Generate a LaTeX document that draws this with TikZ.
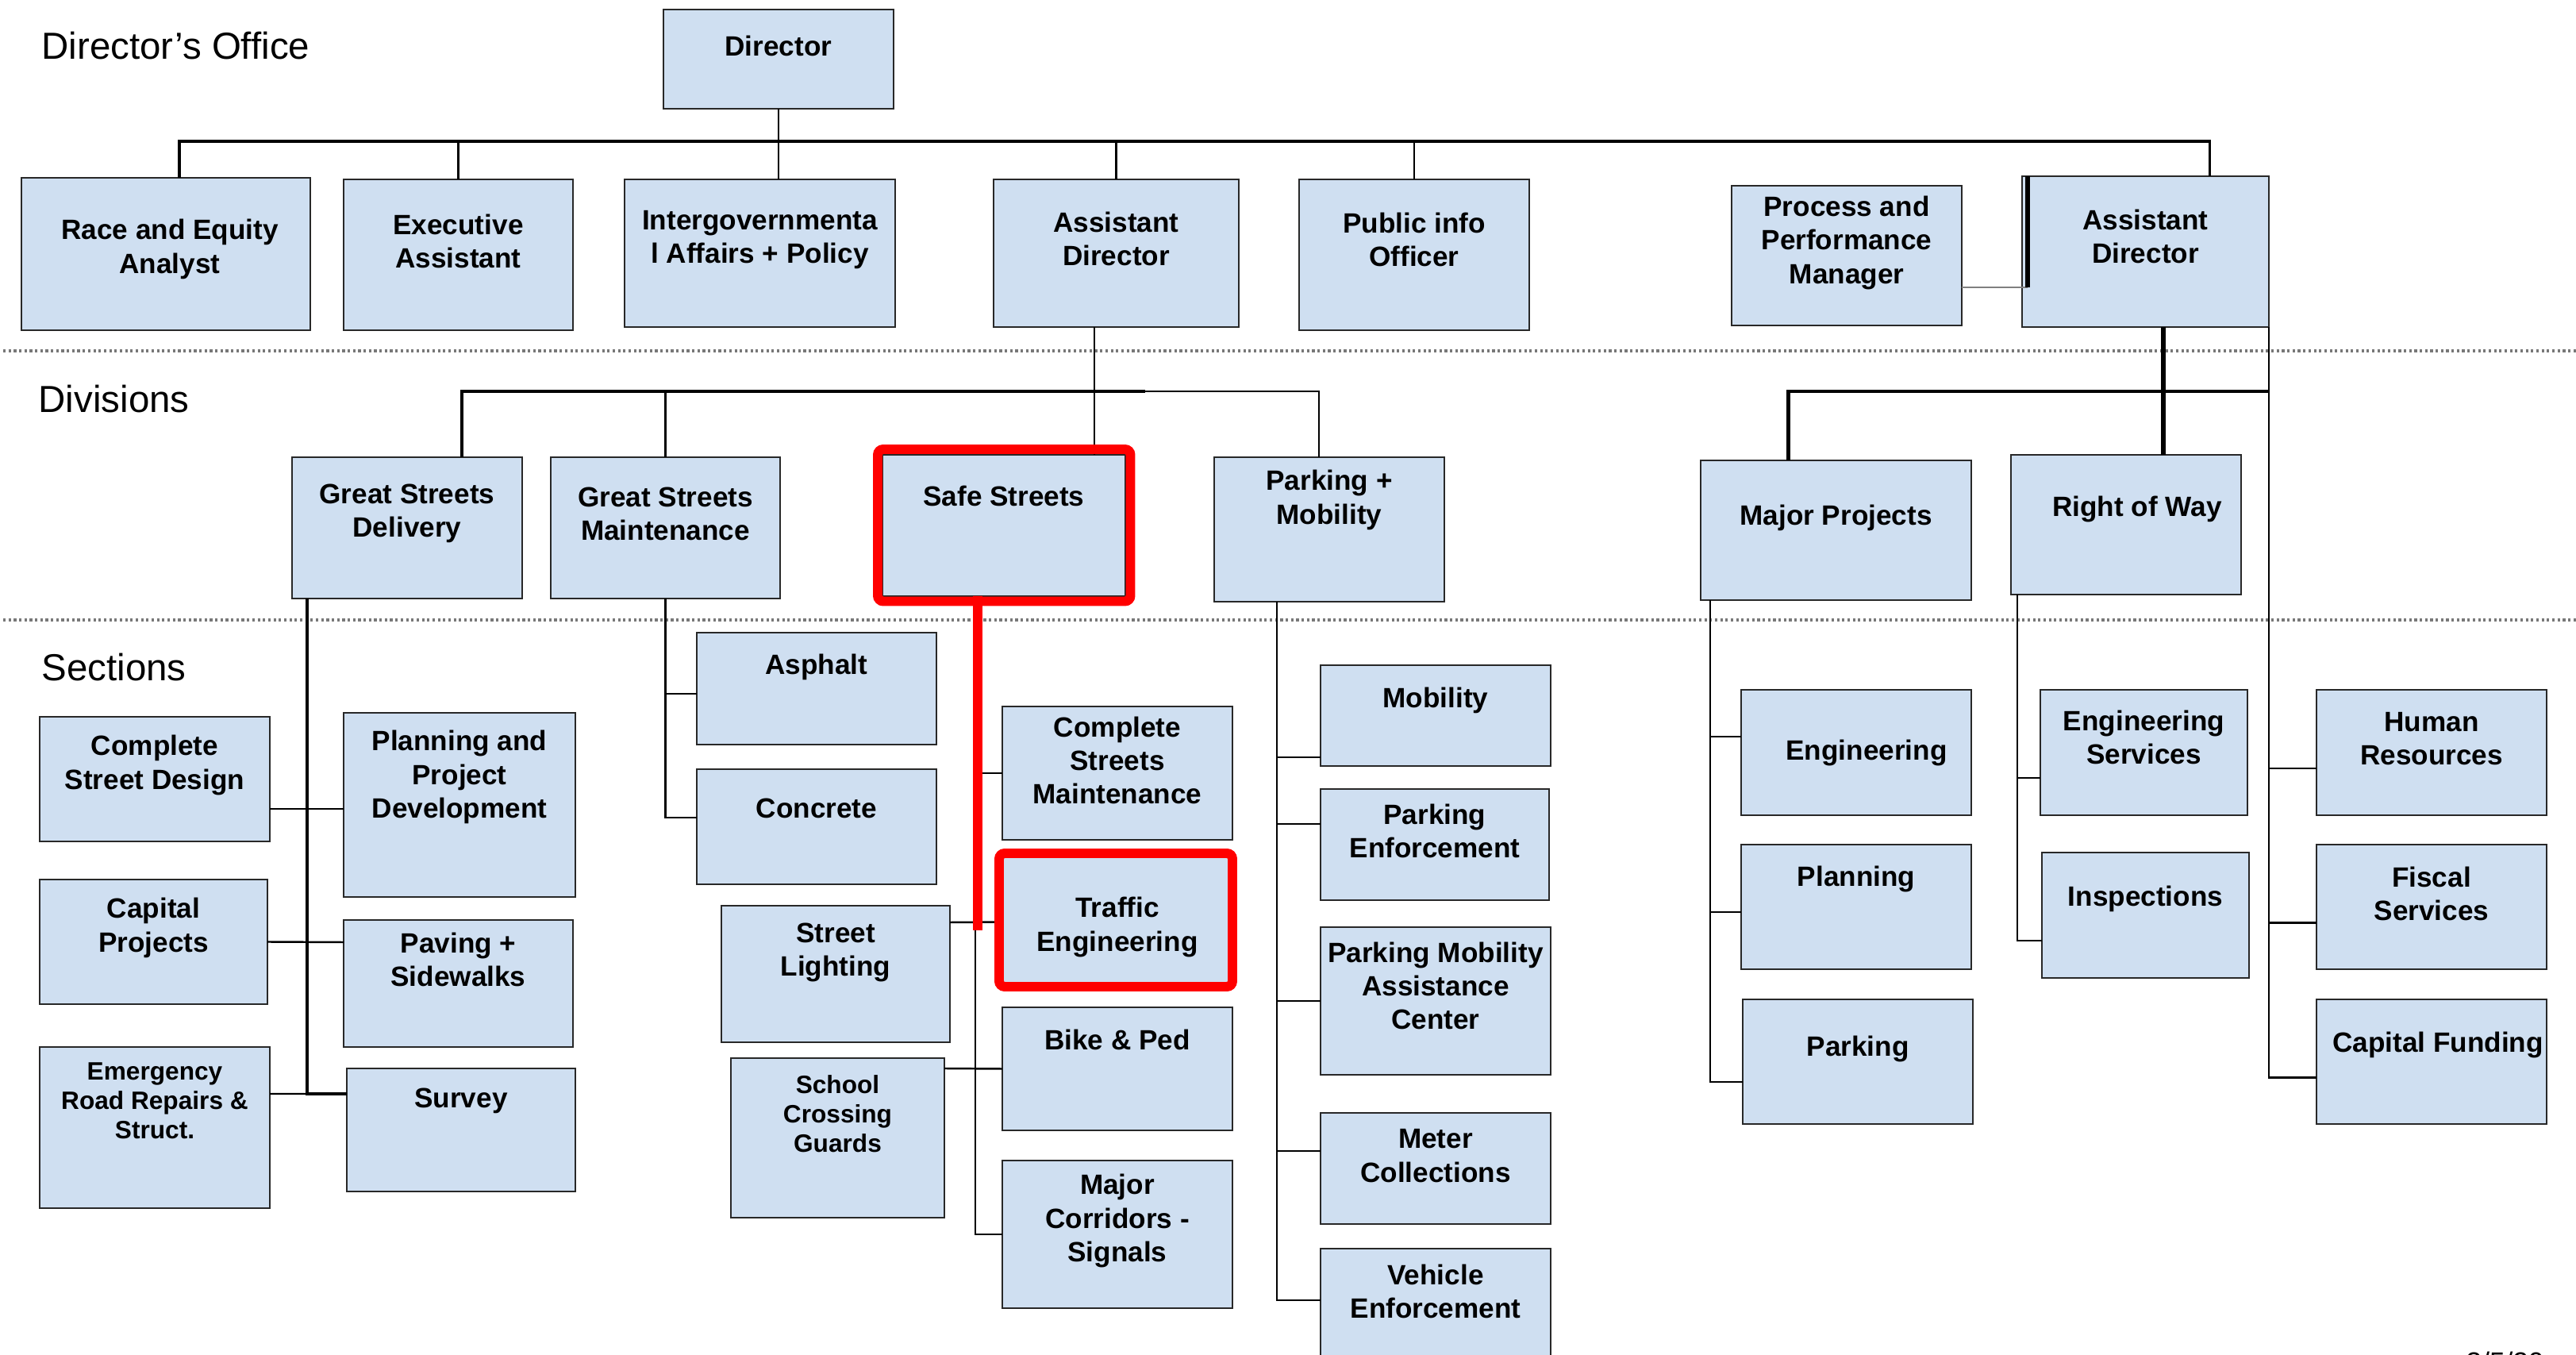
\documentclass[tikz,border=0pt]{standalone}
\usepackage{fontspec}
\setmainfont{Liberation Sans}
\definecolor{boxfill}{RGB}{207,223,241}
\definecolor{boxline}{RGB}{40,40,40}
\definecolor{sepgray}{RGB}{120,120,120}

\begin{document}
\begin{tikzpicture}[x=1cm, y=-1cm,
    unit/.style={draw=boxline, fill=boxfill, line width=0.8pt, inner sep=0pt, outer sep=0pt, anchor=north west},
    unitname/.style={font=\bfseries\fontsize{10}{12}\selectfont, align=center, inner sep=0pt},
    smallname/.style={font=\bfseries\fontsize{9}{10.6}\selectfont, align=center, inner sep=0pt},
    says/.style 2 args={label={[unitname, anchor=center, yshift=-#1cm-0.04cm]north:{#2}}},
    sayssmall/.style 2 args={label={[smallname, anchor=center, yshift=-#1cm-0.04cm]north:{#2}}},
    heading/.style={font=\fontsize{13.5}{16}\selectfont, inner sep=0pt, anchor=west},
    link/.style={line width=0.7pt},
    bus/.style={line width=1pt},
    thicklink/.style={line width=1.4pt},
    redframe/.style={draw=red, line width=3.4pt, rounded corners=2pt},
    redline/.style={draw=red, line width=3.4pt},
    sepline/.style={sepgray, line width=0.9pt, dash pattern=on 0.9pt off 1.0pt}]

\useasboundingbox (0,0) rectangle (32.46,17.07);

% separators
\draw[sepline] (0.04,4.42) -- (32.46,4.42);
\draw[sepline] (0.04,7.81) -- (32.46,7.81);

\node[heading] (hoffice) at (0.52,0.58) {Director's Office};
\node[heading] (hdiv) at (0.48,5.03) {Divisions};
\node[heading] (hsec) at (0.52,8.41) {Sections};

% director's office
\node[unit, minimum width=2.90cm, minimum height=1.25cm, says={0.42}{Director}] (dir) at (8.36,0.12) {};
\node[unit, minimum width=3.64cm, minimum height=1.92cm,
      label={[unitname, anchor=center, xshift=0.05cm, yshift=-0.9cm]north:{Race and Equity\\Analyst}}] (race) at (0.27,2.24) {};
\node[unit, minimum width=2.89cm, minimum height=1.90cm, says={0.74}{Executive\\Assistant}] (exec) at (4.33,2.26) {};
\node[unit, minimum width=3.41cm, minimum height=1.86cm, says={0.72}{Intergovernmenta\\l Affairs + Policy}] (igv) at (7.87,2.26) {};
\node[unit, minimum width=3.09cm, minimum height=1.86cm, says={0.71}{Assistant\\Director}] (ad1) at (12.52,2.26) {};
\node[unit, minimum width=2.90cm, minimum height=1.90cm, says={0.72}{Public info\\Officer}] (pio) at (16.37,2.26) {};
\node[unit, minimum width=2.90cm, minimum height=1.76cm, says={0.68}{Process and\\Performance\\Manager}] (ppm) at (21.82,2.34) {};
\node[unit, minimum width=3.11cm, minimum height=1.90cm, says={0.72}{Assistant\\Director}] (ad2) at (25.48,2.22) {};

% divisions
\node[unit, minimum width=2.90cm, minimum height=1.78cm, says={0.67}{Great Streets\\Delivery}] (gsd) at (3.68,5.76) {};
\node[unit, minimum width=2.89cm, minimum height=1.78cm, says={0.67}{Great Streets\\Maintenance}] (gsm) at (6.94,5.76) {};
\node[unit, minimum width=3.06cm, minimum height=1.78cm, says={0.48}{Safe Streets}] (safe) at (11.12,5.73) {};
\node[unit, minimum width=2.90cm, minimum height=1.82cm, says={0.50}{Parking +\\Mobility}] (pm) at (15.30,5.76) {};
\node[unit, minimum width=3.41cm, minimum height=1.76cm, says={0.68}{Major Projects}] (mp) at (21.43,5.80) {};
\node[unit, minimum width=2.90cm, minimum height=1.76cm,
      label={[unitname, anchor=center, xshift=0.14cm, yshift=-0.69cm]north:{Right of Way}}] (row) at (25.34,5.73) {};

% sections
\node[unit, minimum width=2.90cm, minimum height=1.57cm, says={0.57}{Complete\\Street Design}] (csd) at (0.50,9.03) {};
\node[unit, minimum width=2.92cm, minimum height=2.32cm, says={0.77}{Planning and\\Project\\Development}] (ppd) at (4.33,8.98) {};
\node[unit, minimum width=2.87cm, minimum height=1.57cm, says={0.57}{Capital\\Projects}] (cap) at (0.50,11.08) {};
\node[unit, minimum width=2.89cm, minimum height=1.60cm, says={0.46}{Paving +\\Sidewalks}] (pav) at (4.33,11.59) {};
\node[unit, minimum width=2.90cm, minimum height=2.03cm, sayssmall={0.64}{Emergency\\Road Repairs \&\\Struct.}] (err) at (0.50,13.19) {};
\node[unit, minimum width=2.88cm, minimum height=1.55cm, says={0.37}{Survey}] (sur) at (4.37,13.46) {};

\node[unit, minimum width=3.02cm, minimum height=1.41cm, says={0.39}{Asphalt}] (asp) at (8.78,7.97) {};
\node[unit, minimum width=3.02cm, minimum height=1.45cm, says={0.45}{Concrete}] (con) at (8.78,9.69) {};

\node[unit, minimum width=2.90cm, minimum height=1.68cm, says={0.64}{Complete\\Streets\\Maintenance}] (csm) at (12.63,8.90) {};
\node[unit, minimum width=2.88cm, minimum height=1.72cm, says={0.55}{Street\\Lighting}] (stl) at (9.09,11.41) {};
\node[unit, minimum width=2.90cm, minimum height=1.63cm, says={0.84}{Traffic\\Engineering}] (tre) at (12.63,10.80) {};
\node[unit, minimum width=2.69cm, minimum height=2.01cm, sayssmall={0.66}{School\\Crossing\\Guards}] (scg) at (9.21,13.33) {};
\node[unit, minimum width=2.90cm, minimum height=1.55cm, says={0.37}{Bike \& Ped}] (bnp) at (12.63,12.69) {};
\node[unit, minimum width=2.90cm, minimum height=1.86cm, says={0.72}{Major\\Corridors -\\Signals}] (mcs) at (12.63,14.62) {};

\node[unit, minimum width=2.90cm, minimum height=1.27cm, says={0.40}{Mobility}] (mob) at (16.64,8.38) {};
\node[unit, minimum width=2.88cm, minimum height=1.40cm, says={0.49}{Parking\\Enforcement}] (pen) at (16.64,9.94) {};
\node[unit, minimum width=2.90cm, minimum height=1.86cm, says={0.70}{Parking Mobility\\Assistance\\Center}] (pmac) at (16.64,11.68) {};
\node[unit, minimum width=2.90cm, minimum height=1.40cm, says={0.50}{Meter\\Collections}] (mtc) at (16.64,14.02) {};
\node[unit, minimum width=2.90cm, minimum height=1.70cm, says={0.50}{Vehicle\\Enforcement}] (veh) at (16.64,15.73) {};

\node[unit, minimum width=2.90cm, minimum height=1.58cm,
      label={[unitname, anchor=center, xshift=0.13cm, yshift=-0.79cm]north:{Engineering}}] (eng) at (21.94,8.69) {};
\node[unit, minimum width=2.90cm, minimum height=1.57cm, says={0.39}{Planning}] (pln) at (21.94,10.64) {};
\node[unit, minimum width=2.90cm, minimum height=1.57cm, says={0.58}{Parking}] (prk) at (21.96,12.59) {};
\node[unit, minimum width=2.61cm, minimum height=1.58cm, says={0.56}{Engineering\\Services}] (esv) at (25.71,8.69) {};
\node[unit, minimum width=2.61cm, minimum height=1.58cm, says={0.54}{Inspections}] (ins) at (25.73,10.74) {};
\node[unit, minimum width=2.90cm, minimum height=1.58cm, says={0.58}{Human\\Resources}] (hr) at (29.19,8.69) {};
\node[unit, minimum width=2.90cm, minimum height=1.57cm, says={0.58}{Fiscal\\Services}] (fis) at (29.19,10.64) {};
\node[unit, minimum width=2.90cm, minimum height=1.57cm,
      label={[unitname, anchor=center, xshift=0.08cm, yshift=-0.57cm]north:{Capital Funding}}] (cfu) at (29.19,12.59) {};

\node[anchor=north west, inner sep=0pt, font=\fontsize{10}{12}\selectfont] (date) at (31.07,17.02) {3/5/20};

% top level
\coordinate (topbus) at (9.81,1.78);
\draw[bus] ([xshift=0.17cm]race.north) |- (topbus) -| ([xshift=0.81cm]ad2.north);
\draw[link] (dir.south) -- (dir.south |- igv.north);
\draw[link] (exec.north) -- (exec.north |- topbus);
\draw[link] (ad1.north) -- (ad1.north |- topbus);
\draw[link] (pio.north) -- (pio.north |- topbus);
\coordinate (ppmjoin) at (25.55,3.62);
\draw[gray, line width=0.5pt] ([yshift=-0.4cm]ppm.east) -- (ppmjoin);
\draw[line width=1.6pt] (ppmjoin) -- (ppmjoin |- ad2.north);

% divisions
\coordinate (divbus) at (14.43,4.93);
\draw[thicklink] ([xshift=0.69cm]gsd.north) |- (divbus);
\draw[link] (divbus) -| ([xshift=-0.13cm]pm.north);
\draw[link] (gsm.north) -- (gsm.north |- divbus);
\coordinate (safetop) at ([xshift=1.14cm]safe.north);
\draw[link] (safetop) -- (safetop |- ad1.south);
\coordinate (rdivbus) at (28.59,4.93);
\draw[thicklink] ([xshift=-0.60cm]mp.north) |- (rdivbus);
\coordinate (rowtop) at ([xshift=0.47cm]row.north);
\draw[line width=1.6pt] (rowtop) -- (rowtop |- ad2.south);

% great streets delivery
\coordinate (gsdspine) at ([xshift=0.19cm]gsd.south west);
\draw[bus] (gsdspine) |- ([yshift=0.455cm]sur.west);
\draw[link] ([yshift=-0.375cm]csd.east) -- ([yshift=-0.05cm]ppd.west);
\draw[link] (cap.east) -- ([yshift=0.52cm]pav.west);
\draw[link] ([yshift=0.425cm]err.east) -- ([yshift=0.455cm]sur.west);

% great streets maintenance
\draw[link] (gsm.south) |- ([yshift=0.115cm]con.west);
\draw[link] ([yshift=-0.065cm]asp.west) -| (gsm.south);

% safe streets
\coordinate (ssspine) at ([xshift=1.17cm]safe.south west);
\draw[link] (ssspine) |- (mcs.west);
\draw[link] (csm.west) -| (ssspine);
\draw[link] ([yshift=0.65cm]stl.east) -- (tre.west);
\draw[link] ([yshift=0.875cm]scg.east) -- (bnp.west);
\coordinate (redtop) at ([xshift=1.20cm]safe.south west);
\coordinate (redend) at (12.32,11.72);
\draw[redline] (redtop) -- (redend);
\draw[redframe] ([shift={(-0.06,-0.07)}]safe.north west) rectangle ([shift={(0.065,0.065)}]safe.south east);
\draw[redframe] ([shift={(-0.04,-0.05)}]tre.north west) rectangle (tre.south east);

% parking + mobility
\coordinate (pmspine) at ([xshift=0.79cm]pm.south west);
\draw[link] (pmspine) |- ([yshift=0.2cm]veh.west);
\draw[link] ([yshift=-0.525cm]mob.west) -| (pmspine);
\draw[link] ([yshift=0.26cm]pen.west) -| (pmspine);
\draw[link] (pmac.west) -| (pmspine);
\draw[link] ([yshift=0.22cm]mtc.west) -| (pmspine);

% major projects
\coordinate (mpspine) at ([xshift=0.12cm]mp.south west);
\draw[link] (mpspine) |- ([yshift=-0.255cm]prk.west);
\draw[link] ([yshift=0.2cm]eng.west) -| (mpspine);
\draw[link] ([yshift=-0.065cm]pln.west) -| (mpspine);

% right of way
\coordinate (rowspine) at ([xshift=0.08cm]row.south west);
\draw[link] (rowspine) |- ([yshift=-0.32cm]ins.west);
\draw[link] ([yshift=-0.32cm]esv.west) -| (rowspine);

% assistant director (right)
\draw[link] (ad2.south east) |- ([yshift=-0.2cm]cfu.west);
\draw[link] ([yshift=-0.2cm]hr.west) -| (ad2.south east);
\draw[link] ([yshift=-0.2cm]fis.west) -| (ad2.south east);
\end{tikzpicture}
\end{document}
